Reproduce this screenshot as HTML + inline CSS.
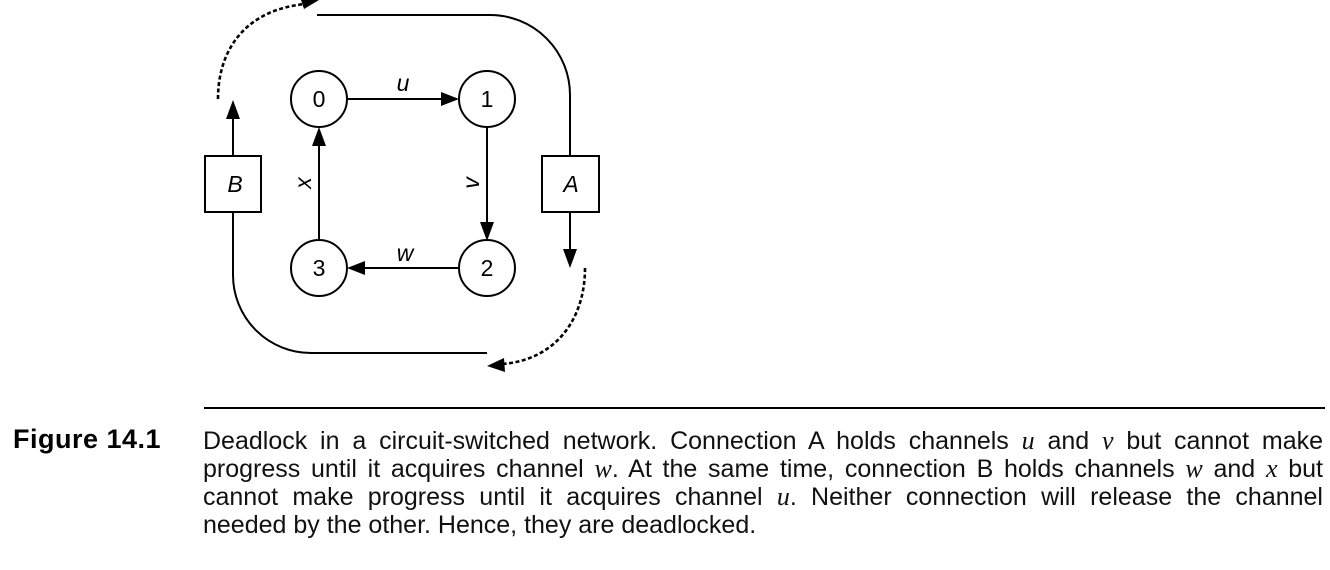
<!DOCTYPE html>
<html><head><meta charset="utf-8"><style>
html,body{margin:0;padding:0;background:#fff;}
body{width:1330px;height:570px;position:relative;overflow:hidden;font-family:"Liberation Sans",sans-serif;}
svg{position:absolute;left:0;top:0;}
.fig{position:absolute;left:13px;top:424px;font-weight:bold;font-size:27px;color:#000;letter-spacing:0.5px;}
.cap{position:absolute;left:203px;top:427px;width:1120px;font-size:25px;line-height:28px;color:#111;}
.cap div{text-align:justify;text-align-last:justify;white-space:nowrap;}
.cap div.last{text-align-last:left;}
.cap i{font-family:"Liberation Serif",serif;font-size:26px;}
</style></head><body>
<svg width="1330" height="570" viewBox="0 0 1330 570">
<g fill="none" stroke="#000" stroke-width="2">
<circle cx="319" cy="99" r="28"/>
<circle cx="487" cy="99" r="28"/>
<circle cx="487" cy="268" r="28"/>
<circle cx="319" cy="268" r="28"/>
<line x1="347" y1="99" x2="445" y2="99"/>
<line x1="487" y1="127" x2="487" y2="225"/>
<line x1="459" y1="268" x2="361" y2="268"/>
<line x1="319" y1="240" x2="319" y2="142"/>
<rect x="205" y="156" width="56" height="56"/>
<rect x="542" y="156" width="57" height="56"/>
<line x1="233" y1="156" x2="233" y2="115"/>
<line x1="570" y1="212" x2="570" y2="252"/>
<path d="M317,15 L490,15 A80,80 0 0 1 570,95 L570,156"/>
<path d="M233,212 L233,275 A78,78 0 0 0 311,353 L487,353"/>
<path d="M218,99 C218,50 245,10 305,4" stroke-width="2.6" stroke-dasharray="4,2.5"/>
<path d="M585,268 C585,320 555,360 502,364" stroke-width="2.6" stroke-dasharray="4,2.5"/>
</g>
<g fill="#000">
<polygon points="459,99 441,92 441,106"/>
<polygon points="487,241 480,222 494,222"/>
<polygon points="347,268 365,261 365,275"/>
<polygon points="319,127 312,146 326,146"/>
<polygon points="233,100 226,119 240,119"/>
<polygon points="570,268 563,249 577,249"/>
<polygon points="319,0 300,-3 304,9"/>
<polygon points="487,366 504,358 505,372"/>
</g>
<g font-family="Liberation Sans, sans-serif" font-size="23" text-anchor="middle" fill="#000">
<text x="319" y="107">0</text>
<text x="487" y="107">1</text>
<text x="487" y="276">2</text>
<text x="319" y="276">3</text>
<text x="403" y="91" font-style="italic">u</text>
<text x="405" y="261" font-style="italic">w</text>
<text x="304" y="190" font-style="italic" transform="rotate(-90 304 183)">x</text>
<text x="472" y="190" font-style="italic" transform="rotate(-90 472 183)">v</text>
<text x="235" y="192" font-style="italic">B</text>
<text x="571" y="192" font-style="italic">A</text>
</g>
<line x1="204" y1="408" x2="1325" y2="408" stroke="#000" stroke-width="2"/>
</svg>
<div class="fig">Figure 14.1</div>
<div class="cap">
<div>Deadlock in a circuit-switched network. Connection A holds channels <i>u</i> and <i>v</i> but cannot make</div>
<div>progress until it acquires channel <i>w</i>. At the same time, connection B holds channels <i>w</i> and <i>x</i> but</div>
<div>cannot make progress until it acquires channel <i>u</i>. Neither connection will release the channel</div>
<div class="last">needed by the other. Hence, they are deadlocked.</div>
</div>
</body></html>
